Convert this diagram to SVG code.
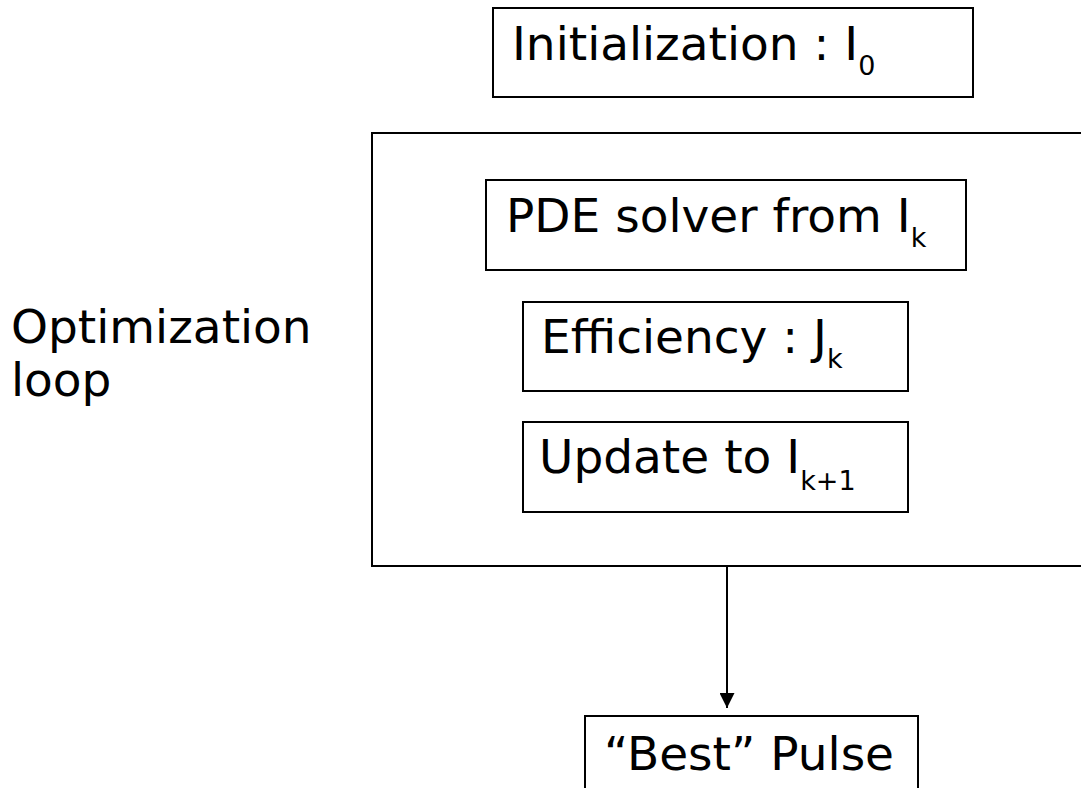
<svg xmlns="http://www.w3.org/2000/svg" width="1081" height="788" viewBox="0 0 1081 788">
<defs>
<style>
.box{fill:#fff;stroke:#000;stroke-width:2}
.t{font-family:"DejaVu Sans",sans-serif;font-size:47px;fill:#000}
.s{font-size:27px}
.c{stroke:#000;stroke-width:2;fill:none}
</style>
<marker id="ah" markerWidth="15" markerHeight="15" refX="15" refY="7.5" orient="auto" markerUnits="userSpaceOnUse">
<path d="M0,0 L15,7.5 L0,15 Z" fill="#000"/>
</marker>
</defs>
<rect width="1081" height="788" fill="#fff"/>
<g id="init">
<rect class="box" x="493" y="8" width="480" height="89"/>
<text class="t" x="512" y="60">Initialization : I<tspan class="s" dy="15">0</tspan></text>
</g>
<g id="loop">
<rect class="box" x="372" y="133" width="720" height="433"/>
</g>
<g id="looplabel">
<text class="t" x="11" y="343">Optimization</text>
<text class="t" x="11" y="396">loop</text>
</g>
<g id="pde">
<rect class="box" x="486" y="180" width="480" height="90"/>
<text class="t" x="506" y="232">PDE solver from I<tspan class="s" dy="15">k</tspan></text>
</g>
<g id="eff">
<rect class="box" x="523" y="302" width="385" height="89"/>
<text class="t" x="541" y="353">Efficiency : J<tspan class="s" dy="15">k</tspan></text>
</g>
<g id="upd">
<rect class="box" x="523" y="422" width="385" height="90"/>
<text class="t" x="539" y="473">Update to I<tspan class="s" dy="17">k+1</tspan></text>
</g>
<g id="best">
<rect class="box" x="585" y="716" width="333" height="90"/>
<text class="t" x="604" y="770">“Best” Pulse</text>
</g>
<g id="connectors">
<line class="c" x1="727" y1="566" x2="727" y2="708" marker-end="url(#ah)"/>
</g>
</svg>
